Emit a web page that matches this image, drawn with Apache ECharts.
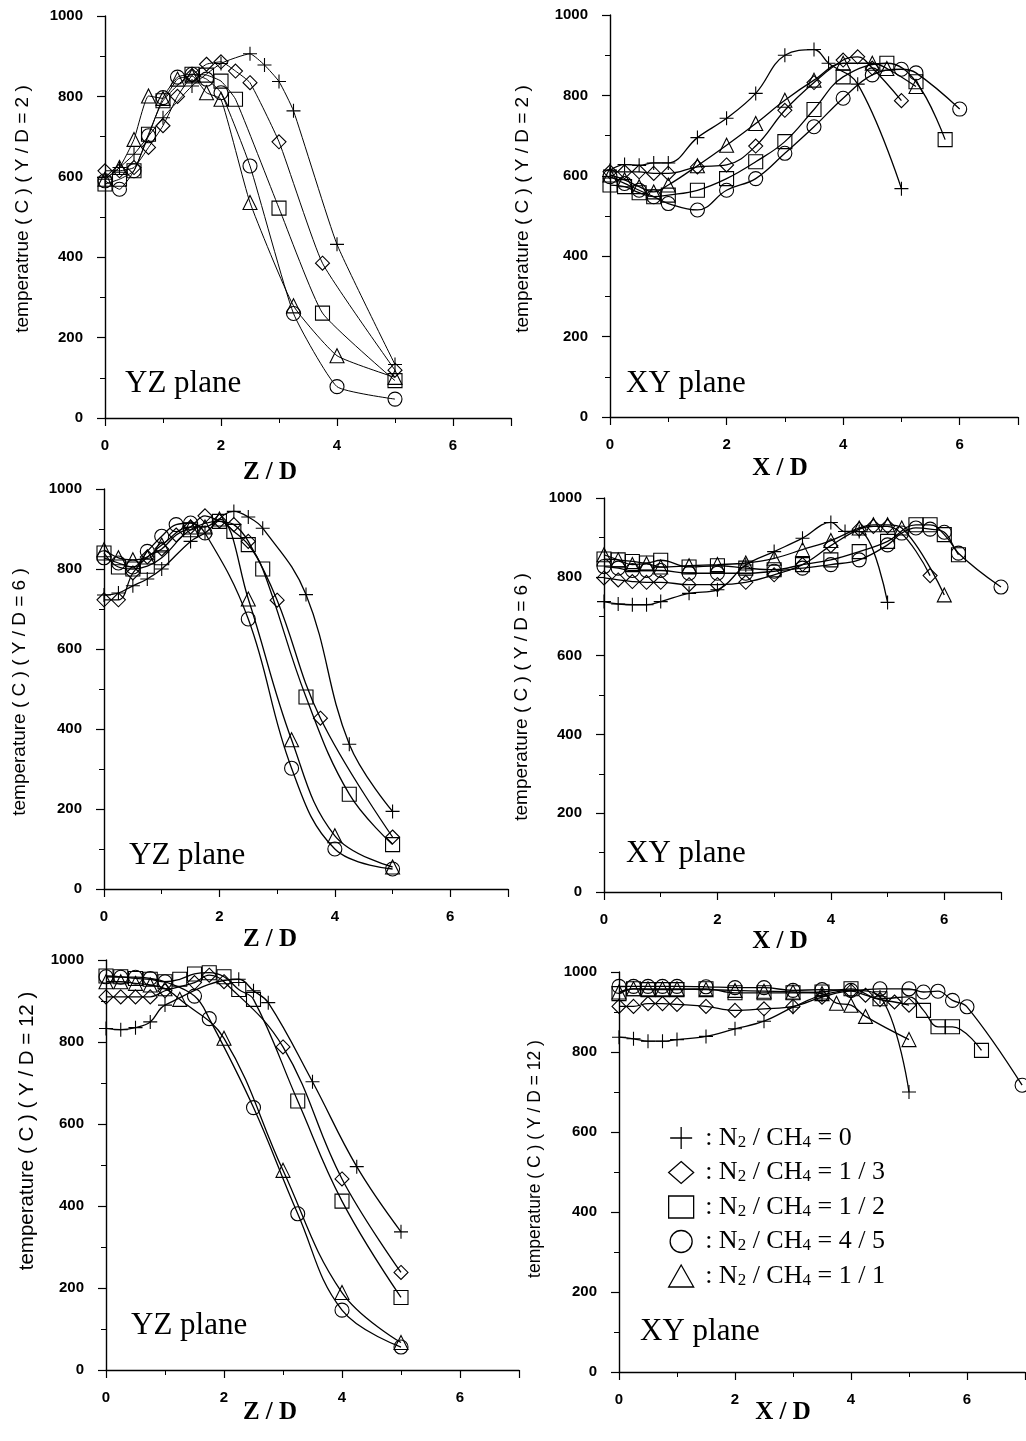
<!DOCTYPE html>
<html>
<head>
<meta charset="utf-8">
<script src="https://cdn.jsdelivr.net/npm/echarts@6/dist/echarts.min.js"></script>
<style>
  html, body { margin: 0; padding: 0; background: #fff; }
  #chart { width: 1026px; height: 1441px; }
</style>
</head>
<body>
<div id="chart"></div>
<script>
// ratio labels (N2 / CH4) for the five series
const ratios = ['0', '1 / 3', '1 / 2', '4 / 5', '1 / 1'];
const xTickValues = [0, 2, 4, 6];
const yTickValues = [0, 200, 400, 600, 800, 1000];

// YZ plane, Y/D = 2  -> [x, temperature]
const yz2Plus = [[0,594],[0.25,623],[0.5,656],[1,747],[1.5,826],[2,882],[2.5,906],[2.75,878],[3,837],[3.25,764],[4,432],[5,133]];
const yz2Diamond = [[0,615],[0.25,615],[0.5,623],[0.75,673],[1,727],[1.25,800],[1.5,852],[1.75,880],[2,886],[2.25,863],[2.5,834],[3,687],[3.75,385],[5,119]];
const yz2Square = [[0,582],[0.25,594],[0.5,615],[0.75,706],[1,789],[1.5,855],[1.75,853],[2,838],[2.25,793],[3,522],[3.75,261],[5,93]];
const yz2Circle = [[0,590],[0.25,569],[0.5,615],[0.75,702],[1,797],[1.25,848],[1.5,855],[1.75,843],[2,809],[2.5,627],[3.25,260],[4,78],[5,47]];
const yz2Triangle = [[0,594],[0.25,623],[0.5,693],[0.75,801],[1,795],[1.25,843],[1.5,851],[1.75,809],[2,793],[2.5,536],[3.25,279],[4,155],[5,101]];

// XY plane, Y/D = 2
const xy2Plus = [[0,614],[0.25,628],[0.5,626],[0.75,632],[1,632],[1.5,695],[2,743],[2.5,805],[3,900],[3.5,914],[3.75,880],[4.25,828],[5,568]];
const xy2Diamond = [[0,610],[0.25,610],[0.5,610],[0.75,606],[1,606],[1.5,622],[2,627],[2.5,674],[3,763],[3.5,832],[4,888],[4.25,896],[4.5,868],[5,787]];
const xy2Square = [[0,577],[0.25,573],[0.5,558],[0.75,548],[1,552],[1.5,564],[2,593],[2.5,635],[3,685],[3.5,765],[4,846],[4.75,880],[5.25,834],[5.75,690]];
const xy2Circle = [[0,598],[0.25,581],[0.5,564],[0.75,548],[1,531],[1.5,515],[2,564],[2.5,593],[3,656],[3.5,722],[4,793],[4.5,851],[5,865],[5.25,856],[6,766]];
const xy2Triangle = [[0,602],[0.25,590],[0.5,573],[0.75,560],[1,577],[1.5,625],[2,676],[2.5,730],[3,788],[3.5,838],[4,880],[4.5,880],[4.75,867],[5.25,822]];

// YZ plane, Y/D = 6
const yz6Plus = [[0,735],[0.25,740],[0.5,758],[0.75,775],[1,800],[1.5,869],[1.75,890],[2.25,944],[2.5,930],[2.75,902],[3.5,736],[4.25,362],[5,194]];
const yz6Diamond = [[0,723],[0.25,723],[0.5,790],[0.75,830],[1,850],[1.25,885],[1.5,905],[1.75,933],[2,920],[2.25,911],[2.5,869],[3,722],[3.75,427],[5,130]];
const yz6Square = [[0,840],[0.25,805],[0.5,800],[0.75,807],[1,828],[1.5,898],[2,919],[2.25,894],[2.5,861],[2.75,800],[3.5,480],[4.25,237],[5,111]];
const yz6Circle = [[0,828],[0.25,815],[0.5,805],[0.75,844],[1,882],[1.25,911],[1.5,915],[1.75,890],[2.5,675],[3.25,302],[4,100],[5,50]];
const yz6Triangle = [[0,848],[0.25,828],[0.5,823],[0.75,830],[1,860],[1.5,905],[1.75,905],[2,925],[2.5,725],[3.25,373],[4,133],[5,55]];

// XY plane, Y/D = 6
const xy6Plus = [[0,737],[0.25,731],[0.5,729],[0.75,729],[1,737],[1.5,758],[2,767],[2.5,830],[3,864],[3.5,898],[4,938],[4.25,915],[4.5,915],[5,735]];
const xy6Diamond = [[0,797],[0.25,792],[0.5,788],[0.75,786],[1,786],[1.5,780],[2,780],[2.5,786],[3,805],[3.5,831],[4,879],[4.5,921],[4.75,928],[5,928],[5.75,803]];
const xy6Square = [[0,845],[0.25,843],[0.5,839],[0.75,835],[1,842],[1.5,825],[2,828],[2.5,822],[3,818],[3.5,831],[4,843],[4.5,864],[5,890],[5.5,932],[5.75,932],[6,907],[6.25,856]];
const xy6Circle = [[0,826],[0.25,822],[0.5,816],[0.75,816],[1,816],[1.5,809],[2,809],[2.5,809],[3,814],[3.5,822],[4,831],[4.5,843],[5,881],[5.25,911],[5.5,924],[5.75,921],[6,913],[6.25,860],[7,774]];
const xy6Triangle = [[0,856],[0.25,843],[0.5,831],[0.75,833],[1,825],[1.5,828],[2,831],[2.5,835],[3,847],[3.5,869],[4,892],[4.5,924],[4.75,932],[5,932],[5.25,924],[6,754]];

// YZ plane, Y/D = 12
const yz12Plus = [[0,833],[0.25,830],[0.5,835],[0.75,849],[1,890],[2.25,953],[2.5,925],[2.75,896],[3.5,703],[4.25,496],[5,337]];
const yz12Diamond = [[0,910],[0.25,910],[0.5,910],[0.75,910],[1,925],[1.5,945],[1.75,963],[2,947],[3,788],[4,466],[5,238]];
const yz12Square = [[0,961],[0.25,959],[0.5,955],[0.75,953],[1,947],[1.25,953],[1.5,966],[1.75,969],[2,959],[2.25,928],[2.5,904],[3.25,656],[4,412],[5,177]];
const yz12Circle = [[0,959],[0.25,958],[0.5,958],[0.75,955],[1,947],[1.5,912],[1.75,857],[2.5,640],[3.25,381],[4,146],[5,56]];
const yz12Triangle = [[0,947],[0.25,947],[0.5,943],[0.75,939],[1,930],[1.25,904],[2,809],[3,487],[4,189],[5,67]];

// XY plane, Y/D = 12
const xy12Plus = [[0,837],[0.25,833],[0.5,827],[0.75,827],[1,831],[1.5,839],[2,858],[2.5,877],[3,912],[3.5,942],[4,954],[4.5,938],[5,700]];
const xy12Diamond = [[0,914],[0.25,914],[0.5,921],[0.75,921],[1,919],[1.5,914],[2,904],[2.5,908],[3,914],[3.5,937],[4,952],[4.25,942],[4.5,931],[4.75,925],[5,917]];
const xy12Square = [[0,946],[0.25,958],[0.5,956],[0.75,956],[1,956],[1.5,958],[2,948],[2.5,948],[3,948],[3.5,950],[4,958],[4.5,933],[5,938],[5.25,904],[5.5,863],[5.75,863],[6.25,804]];
const xy12Circle = [[0,964],[0.25,964],[0.5,964],[0.75,964],[1,964],[1.5,963],[2,961],[2.5,961],[3,954],[3.5,956],[4,954],[4.5,958],[5,958],[5.25,950],[5.5,952],[5.75,929],[6,913],[6.95,717]];
const xy12Triangle = [[0,950],[0.25,958],[0.5,958],[0.75,958],[1,958],[1.5,956],[2,954],[2.5,952],[3,950],[3.5,946],[3.75,922],[4,917],[4.25,889],[5,831]];

const PLUS = 'path://M0,5L10,5M5,0L5,10';
const symbols = [PLUS, 'diamond', 'rect', 'circle', 'triangle'];

const panels = [
  { series: [yz2Plus, yz2Diamond, yz2Square, yz2Circle, yz2Triangle], plane: 'YZ plane', xName: 'Z / D',
    yName: 'temperatrue ( C ) ( Y / D = 2 )',
    grid: { left: 105, top: 16, width: 406, height: 402 }, smooth: 0.15, lw: 1,
    planePos: [125, 384], xNamePos: [270, 473], yNamePos: [23, 209], yNameSize: 19 },
  { series: [xy2Plus, xy2Diamond, xy2Square, xy2Circle, xy2Triangle], plane: 'XY plane', xName: 'X / D',
    yName: 'temperature ( C ) ( Y / D = 2 )',
    grid: { left: 610, top: 15, width: 408, height: 402 }, smooth: 0.4, lw: 1.3,
    planePos: [626, 384], xNamePos: [780, 469], yNamePos: [523, 209], yNameSize: 19 },
  { series: [yz6Plus, yz6Diamond, yz6Square, yz6Circle, yz6Triangle], plane: 'YZ plane', xName: 'Z / D',
    yName: 'temperature ( C ) ( Y / D = 6 )',
    grid: { left: 104, top: 489, width: 404, height: 400 }, smooth: 0.4, lw: 1.3,
    planePos: [129, 856], xNamePos: [270, 940], yNamePos: [20, 692], yNameSize: 19 },
  { series: [xy6Plus, xy6Diamond, xy6Square, xy6Circle, xy6Triangle], plane: 'XY plane', xName: 'X / D',
    yName: 'temperature ( C ) ( Y / D = 6 )',
    grid: { left: 604, top: 498, width: 397, height: 394 }, smooth: 0.4, lw: 1.3,
    planePos: [626, 854], xNamePos: [780, 942], yNamePos: [522, 697], yNameSize: 19 },
  { series: [yz12Plus, yz12Diamond, yz12Square, yz12Circle, yz12Triangle], plane: 'YZ plane', xName: 'Z / D',
    yName: 'temperature ( C ) ( Y / D = 12 )',
    grid: { left: 106, top: 960, width: 413, height: 410 }, smooth: 0.4, lw: 1.3,
    planePos: [131, 1326], xNamePos: [270, 1413], yNamePos: [27, 1131], yNameSize: 20.5 },
  { series: [xy12Plus, xy12Diamond, xy12Square, xy12Circle, xy12Triangle], plane: 'XY plane', xName: 'X / D',
    yName: 'temperature ( C ) ( Y / D = 12 )',
    grid: { left: 619, top: 972, width: 406, height: 400 }, smooth: 0.4, lw: 1.3,
    planePos: [640, 1332], xNamePos: [783, 1413], yNamePos: [535, 1159], yNameSize: 17.5 }
];

const chart = echarts.init(document.getElementById('chart'), null, { renderer: 'canvas' });

const tickFont = { color: '#000', fontFamily: 'Liberation Sans, Arial, sans-serif', fontWeight: 'bold', fontSize: 15 };
const axisLine = { show: true, onZero: false, lineStyle: { color: '#000', width: 1.4 } };

const grids = [], xAxes = [], yAxes = [], series = [], graphics = [];

panels.forEach((p, i) => {
  grids.push(Object.assign({ outerBoundsMode: 'none', containLabel: false }, p.grid));
  xAxes.push({
    type: 'value', gridIndex: i, min: 0, max: 7, interval: 2,
    axisLine: axisLine,
    axisTick: { show: true, inside: false, length: 8, lineStyle: { color: '#000', width: 1.2 } },
    minorTick: { show: true, splitNumber: 2, length: 5, lineStyle: { color: '#000', width: 1 } },
    axisLabel: Object.assign({ margin: 20, showMaxLabel: false,
      formatter: v => (xTickValues.indexOf(v) >= 0 ? String(v) : '') }, tickFont),
    splitLine: { show: false }, minorSplitLine: { show: false }
  });
  yAxes.push({
    type: 'value', gridIndex: i, min: 0, max: 1000, interval: 200,
    axisLine: axisLine,
    axisTick: { show: true, inside: false, length: 8, lineStyle: { color: '#000', width: 1.2 } },
    minorTick: { show: true, splitNumber: 2, length: 5, lineStyle: { color: '#000', width: 1 } },
    axisLabel: Object.assign({ margin: 22, formatter: v => (yTickValues.indexOf(v) >= 0 ? String(v) : '') }, tickFont),
    splitLine: { show: false }, minorSplitLine: { show: false }
  });
  p.series.forEach((data, k) => {
    series.push({
      type: 'line', name: ratios[k], xAxisIndex: i, yAxisIndex: i,
      data: data, symbol: symbols[k], symbolSize: 14, showAllSymbol: true,
      smooth: p.smooth,
      lineStyle: { color: '#000', width: p.lw },
      itemStyle: { color: 'transparent', borderColor: '#000', borderWidth: 1.1 },
      emphasis: { disabled: true }
    });
  });
  graphics.push({
    type: 'text', x: p.planePos[0], y: p.planePos[1], silent: true,
    style: { text: p.plane, fill: '#000', font: '31px "Liberation Serif", "Times New Roman", serif',
      align: 'left', verticalAlign: 'middle' }
  });
  graphics.push({
    type: 'text', x: p.xNamePos[0], y: p.xNamePos[1], silent: true,
    style: { text: p.xName, fill: '#000', font: 'bold 25px "Liberation Serif", "Times New Roman", serif',
      align: 'center', verticalAlign: 'middle' }
  });
  graphics.push({
    type: 'text', x: p.yNamePos[0], y: p.yNamePos[1], rotation: Math.PI / 2, silent: true,
    style: { text: p.yName, fill: '#000', font: p.yNameSize + 'px "Liberation Sans", Arial, sans-serif',
      align: 'center', verticalAlign: 'middle' }
  });
});

const option = {
  animation: false,
  backgroundColor: '#fff',
  grid: grids,
  xAxis: xAxes,
  yAxis: yAxes,
  series: series,
  graphic: graphics,
  legend: {
    orient: 'vertical', left: 668, top: 1125, padding: 0,
    itemWidth: 25, itemHeight: 22, itemGap: 8.5,
    selectedMode: false,
    data: ratios.map((r, k) => ({
      name: r, icon: symbols[k],
      itemStyle: { color: 'transparent', borderColor: '#000', borderWidth: 1.3 }
    })),
    formatter: n => '{t| : N}{s|2}{t| / CH}{s|4}{t| = ' + n + '}',
    textStyle: {
      color: '#000',
      rich: {
        t: { fontFamily: 'Liberation Serif, Times New Roman, serif', fontSize: 26, color: '#000' },
        s: { fontFamily: 'Liberation Serif, Times New Roman, serif', fontSize: 17, color: '#000',
             verticalAlign: 'bottom', lineHeight: 8 }
      }
    }
  }
};

chart.setOption(option);
</script>
</body>
</html>
